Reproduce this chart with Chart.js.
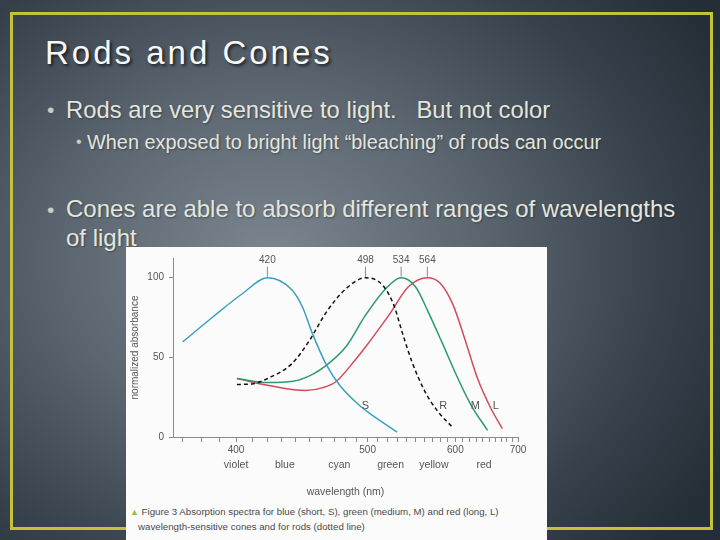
<!DOCTYPE html>
<html>
<head>
<meta charset="utf-8">
<script src="https://cdn.jsdelivr.net/npm/chart.js@4.4.1/dist/chart.umd.min.js"></script>
<style>
html,body{margin:0;padding:0;}
body{width:720px;height:540px;overflow:hidden;position:relative;
  background:radial-gradient(ellipse 520px 430px at 270px 260px,#7b8691 0%,#5b6671 40%,#37424c 75%,#242e37 100%);
  font-family:"Liberation Sans",Arial,sans-serif;}
#frame{position:absolute;left:10px;top:12px;width:697px;height:512px;border:3px solid #c3c23a;}
#title{position:absolute;left:45px;top:33px;font-size:33px;line-height:40px;color:#f7f7f7;letter-spacing:3px;
  text-shadow:2px 2px 3px rgba(0,0,0,0.65);white-space:nowrap;}
.b{position:absolute;color:#e3e6de;white-space:nowrap;text-shadow:1px 1px 2px rgba(0,0,0,0.35);}
.dot{position:absolute;color:#c9ccc4;}
#fig{position:absolute;left:126px;top:247px;width:421px;height:293px;background:#fbfbfb;}
#chart{position:absolute;left:0;top:0;}
#cap{position:absolute;left:4px;top:258px;font-family:"Liberation Sans",Arial,sans-serif;
  font-size:9.7px;line-height:13.5px;color:#4a4a4a;white-space:nowrap;}
#cap .tri{color:#9cc23a;font-size:9px;}
</style>
</head>
<body>
<div id="frame"></div>
<div id="title">Rods and Cones</div>
<div class="dot" style="left:47px;top:96px;font-size:21px;line-height:28px;">•</div>
<div class="b" style="left:66px;top:96px;font-size:23.8px;line-height:28px;">Rods are very sensitive to light.&nbsp;&nbsp; But not color</div>
<div class="dot" style="left:76px;top:131px;font-size:16px;line-height:22px;">•</div>
<div class="b" style="left:87px;top:130px;font-size:19.9px;line-height:24px;">When exposed to bright light “bleaching” of rods can occur</div>
<div class="dot" style="left:47px;top:195px;font-size:21px;line-height:29px;">•</div>
<div class="b" style="left:66px;top:194px;font-size:24px;line-height:29px;">Cones are able to absorb different ranges of wavelengths<br>of light</div>

<div id="fig">
  <canvas id="chart" width="421" height="253"></canvas>
  <div id="cap"><span class="tri">▲</span> Figure 3 Absorption spectra for blue (short, S), green (medium, M) and red (long, L)<br>&nbsp;&nbsp;&nbsp;wavelength-sensitive cones and for rods (dotted line)</div>
</div>

<script>
// ---- data (wavelength in nm, normalized absorbance) ----
const blueNm  = [370, 386.5, 404, 420, 437, 445, 452, 463.8, 474.8, 492.2, 504.6, 529.7];
const blueVal = [59.7, 75.5, 90.1, 100, 92.5, 81.5, 66, 45.1, 32.5, 19.9, 13.6, 3.1];

const rodNm   = [400.5, 410, 420, 437, 449.5, 463.8, 480.5, 498, 514.5, 526.2, 535, 546, 561.3, 577.5, 597];
const rodVal  = [33, 33.3, 36.7, 46, 59.7, 78.6, 93.3, 100, 95.4, 82.8, 66, 47.2, 28.3, 15.7, 5.7];

const greenNm  = [400.5, 420, 438, 453, 463.8, 480.5, 498, 518, 534, 550, 565, 582, 603.6, 622.4, 647.5];
const greenVal = [36.7, 34.2, 35, 39.5, 45.1, 57, 76.5, 93.3, 100, 94.3, 78.6, 59.7, 36.7, 19.9, 4.2];

const redNm  = [400.5, 423, 447, 461, 472, 488, 498, 521, 542, 564, 580, 597, 613, 632, 653, 672];
const redVal = [36.7, 32, 29.2, 31, 35, 48, 56.5, 76.5, 94.3, 100, 96.5, 82.8, 61.9, 36.7, 17.9, 5.3];

const xTickNm    = [370,380,390,400,410,420,430,440,450,460,470,480,490,500,510,520,530,540,550,560,570,580,590,600,610,620,630,640,650,660,670,680,690,700];
const xLabelNm   = [400, 500, 600, 700];
const yTicks     = [0, 50, 100];

const peakNm   = [420, 498, 534, 564];
const peakVal  = [100, 100, 100, 100];
const peakText = ['420', '498', '534', '564'];

const curveLabel   = ['S', 'R', 'M', 'L'];
const curveLabelNm = [498, 584, 628.5, 661];
const curveLabelV  = [19.3, 19.3, 19.3, 19.3];

const bandName = ['violet', 'blue', 'cyan', 'green', 'yellow', 'red'];
const bandNm   = [400, 432, 474.5, 522.8, 572, 642];

// ---- helpers ----
const U = nm => 1e7 / nm;           // wavenumber: axis is linear in 1/λ
const pts = (xs, ys) => xs.map((n, i) => ({x: U(n), y: ys[i]}));
const FIGFONT = '"Liberation Sans Narrow","Liberation Sans",Arial,sans-serif';

const annot = {
  id: 'annot',
  afterDatasetsDraw(chart) {
    const {ctx, scales: {x, y}, chartArea} = chart;
    ctx.save();
    ctx.font = '10px ' + FIGFONT;
    ctx.textAlign = 'center';
    ctx.textBaseline = 'middle';
    ctx.strokeStyle = '#8a8a8a';
    ctx.lineWidth = 1;
    ctx.fillStyle = '#555';
    peakNm.forEach((n, i) => {
      const px = x.getPixelForValue(U(n));
      const py = y.getPixelForValue(peakVal[i]);
      ctx.beginPath(); ctx.moveTo(px, py - 1); ctx.lineTo(px, py - 11); ctx.stroke();
      ctx.fillText(peakText[i], px, py - 17);
    });
    ctx.font = '11px ' + FIGFONT;
    curveLabel.forEach((t, i) => {
      ctx.fillText(t, x.getPixelForValue(U(curveLabelNm[i])), y.getPixelForValue(curveLabelV[i]));
    });
    ctx.font = '10.5px ' + FIGFONT;
    bandName.forEach((t, i) => {
      ctx.fillText(t, x.getPixelForValue(U(bandNm[i])), chartArea.bottom + 28);
    });
    ctx.restore();
  }
};

new Chart(document.getElementById('chart'), {
  type: 'line',
  data: {
    datasets: [
      {label: 'S', data: pts(blueNm, blueVal), borderColor: '#3c9ec2', borderWidth: 1.5},
      {label: 'R', data: pts(rodNm, rodVal), borderColor: '#111', borderWidth: 1.5, borderDash: [4, 3]},
      {label: 'M', data: pts(greenNm, greenVal), borderColor: '#2b9a6c', borderWidth: 1.5},
      {label: 'L', data: pts(redNm, redVal), borderColor: '#d24a5c', borderWidth: 1.5}
    ]
  },
  options: {
    responsive: false,
    animation: false,
    events: [],
    layout: {padding: {left: 0, right: 29, top: 11, bottom: 0}},
    elements: {point: {radius: 0}, line: {tension: 0.4, cubicInterpolationMode: 'monotone', fill: false}},
    plugins: {legend: {display: false}, tooltip: {enabled: false}},
    scales: {
      x: {
        type: 'linear', reverse: true, min: U(700), max: U(365),
        afterBuildTicks: s => { s.ticks = xTickNm.map(n => ({value: U(n)})); },
        afterFit: s => { s.height = 63; },
        ticks: {
          autoSkip: false, maxRotation: 0, padding: 2, color: '#555',
          font: {size: 10, family: FIGFONT},
          callback: v => { const n = Math.round(1e7 / v); return xLabelNm.includes(n) ? String(n) : ''; }
        },
        grid: {drawOnChartArea: false, drawTicks: true, tickLength: 5, color: '#8a8a8a'},
        border: {color: '#8a8a8a', width: 1},
        title: {display: true, text: 'wavelength (nm)', color: '#555', font: {size: 10.5, family: FIGFONT}, padding: {top: 0, bottom: 2}}
      },
      y: {
        type: 'linear', min: 0, max: 112.4,
        afterBuildTicks: s => { s.ticks = yTicks.map(v => ({value: v})); },
        afterFit: s => { s.width = 47; },
        ticks: {color: '#555', padding: 5, font: {size: 10, family: FIGFONT}},
        grid: {drawOnChartArea: false, drawTicks: true, tickLength: 4, color: '#8a8a8a'},
        border: {color: '#8a8a8a', width: 1},
        title: {display: true, text: 'normalized absorbance', color: '#555', font: {size: 10, family: FIGFONT}, padding: {top: 3, bottom: 0}}
      }
    }
  },
  plugins: [annot]
});
</script>
</body>
</html>
